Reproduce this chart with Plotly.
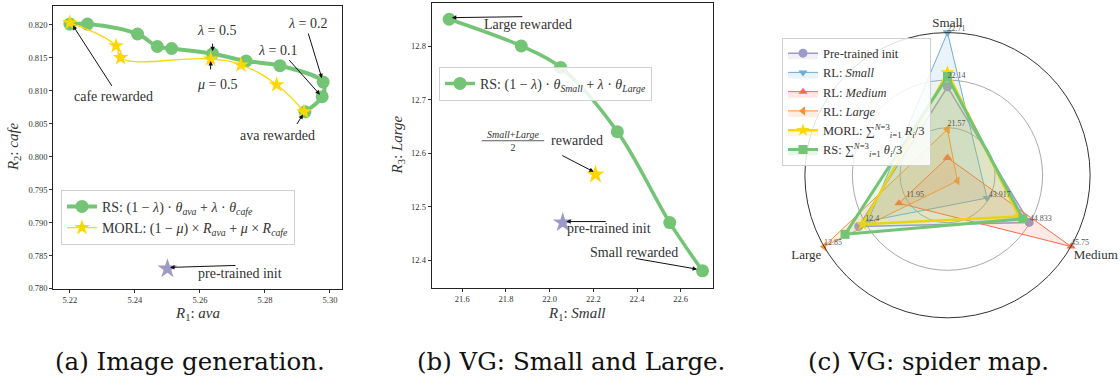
import plotly.graph_objects as go

W, H = 1120, 385
SERIF = "Liberation Serif, Times New Roman, Tinos, Times, DejaVu Serif, serif"
GREEN = "#74c476"
GOLD = "#ffd700"
PURPLE = "#9e9ac8"
BLUE = "#6baed6"
RED = "#fb6a4a"
ORANGE = "#fd8d3c"
TXT = "#333333"

# ---------------- (a) Image generation ----------------
rs_a_ava = [5.2923, 5.2976, 5.2979, 5.2846, 5.2742, 5.2639, 5.2513, 5.2469, 5.2408, 5.2254, 5.2200]
rs_a_cafe = [0.8068, 0.8091, 0.8113, 0.8138, 0.8145, 0.8156, 0.8164, 0.8167, 0.8186, 0.8201, 0.8201]
morl_a_ava = [5.2920, 5.2836, 5.2726, 5.2633, 5.2356, 5.2342, 5.2200]
morl_a_cafe = [0.8068, 0.8109, 0.8139, 0.8148, 0.8150, 0.8168, 0.8203]
init_a_ava = [5.2500]
init_a_cafe = [0.7830]
xa_ticks = [5.22, 5.24, 5.26, 5.28, 5.30]
ya_ticks = [0.780, 0.785, 0.790, 0.795, 0.800, 0.805, 0.810, 0.815, 0.820]

# ---------------- (b) VG: Small and Large ----------------
rs_b_small = [21.54, 21.87, 22.05, 22.31, 22.55, 22.70]
rs_b_large = [12.85, 12.80, 12.76, 12.64, 12.47, 12.38]
morl_b_small = [22.21]
morl_b_large = [12.56]
init_b_small = [22.06]
init_b_large = [12.47]
xb_ticks = [21.6, 21.8, 22.0, 22.2, 22.4, 22.6]
yb_ticks = [12.4, 12.5, 12.6, 12.7, 12.8]

# ---------------- (c) VG: spider map ----------------
spider_axes = ["Small", "Medium", "Large"]
spider_theta = [0, 120, 240]
axis_lo = [21.0, 43.0, 11.5]
axis_hi = [22.71, 45.75, 12.85]
axis_tick_labels = [["21.57", "22.14", "22.71"],
                    ["43.917", "44.833", "45.75"],
                    ["11.95", "12.4", "12.85"]]
init_c = [22.06, 44.82, 12.47]
rl_small_c = [22.71, 43.88, 12.37]
rl_medium_c = [21.21, 45.75, 12.03]
rl_large_c = [21.55, 43.22, 12.85]
morl_c = [22.23, 44.59, 12.43]
rs_c = [22.18, 44.68, 12.62]


def rgba(hexcol, a):
    h = hexcol.lstrip("#")
    return "rgba(%d,%d,%d,%.2f)" % (int(h[0:2], 16), int(h[2:4], 16), int(h[4:6], 16), a)


def norm(vals):
    return [(v - lo) / (hi - lo) for v, lo, hi in zip(vals, axis_lo, axis_hi)]


fig = go.Figure()

# (a)
fig.add_trace(go.Scatter(
    x=rs_a_ava, y=rs_a_cafe, mode="lines+markers", xaxis="x", yaxis="y", legend="legend",
    line=dict(color=GREEN, width=4, shape="spline"), marker=dict(size=13, color=GREEN),
    name="RS: (1 − <i>λ</i>) · <i>θ</i><sub><i>ava</i></sub> + <i>λ</i> · <i>θ</i><sub><i>cafe</i></sub>"))
fig.add_trace(go.Scatter(
    x=morl_a_ava, y=morl_a_cafe, mode="lines+markers", xaxis="x", yaxis="y", legend="legend",
    line=dict(color=GOLD, width=1.3, shape="spline", smoothing=1.3), marker=dict(symbol="star", size=12, color=GOLD),
    name="MORL: (1 − <i>μ</i>) × <i>R</i><sub><i>ava</i></sub> + <i>μ</i> × <i>R</i><sub><i>cafe</i></sub>"))
fig.add_trace(go.Scatter(
    x=init_a_ava, y=init_a_cafe, mode="markers", xaxis="x", yaxis="y", showlegend=False,
    marker=dict(symbol="star", size=15, color=PURPLE)))

# (b)
fig.add_trace(go.Scatter(
    x=rs_b_small, y=rs_b_large, mode="lines+markers", xaxis="x2", yaxis="y2", legend="legend2",
    line=dict(color=GREEN, width=3.5, shape="spline"), marker=dict(size=13, color=GREEN),
    name="RS: (1 − <i>λ</i>) · <i>θ</i><sub><i>Small</i></sub> + <i>λ</i> · <i>θ</i><sub><i>Large</i></sub>"))
fig.add_trace(go.Scatter(
    x=morl_b_small, y=morl_b_large, mode="markers", xaxis="x2", yaxis="y2", showlegend=False,
    marker=dict(symbol="star", size=14, color=GOLD)))
fig.add_trace(go.Scatter(
    x=init_b_small, y=init_b_large, mode="markers", xaxis="x2", yaxis="y2", showlegend=False,
    marker=dict(symbol="star", size=15, color=PURPLE)))

# (c)
spider_series = [
    ("Pre-trained init", init_c, PURPLE, "circle", 9, 1.5),
    ("RL: <i>Small</i>", rl_small_c, BLUE, "triangle-down", 8, 1.0),
    ("RL: <i>Medium</i>", rl_medium_c, RED, "triangle-up", 8, 1.0),
    ("RL: <i>Large</i>", rl_large_c, ORANGE, "triangle-left", 8, 1.0),
    ("MORL: ∑<sup><i>N</i>=3</sup><sub><i>i</i>=1</sub> <i>R</i><sub><i>i</i></sub>/3", morl_c, GOLD, "star", 10, 2.5),
    ("RS: ∑<sup><i>N</i>=3</sup><sub><i>i</i>=1</sub> <i>θ</i><sub><i>i</i></sub>/3", rs_c, GREEN, "square", 9, 3.0),
]
for name, vals, col, sym, msize, lw in spider_series:
    r = norm(vals)
    fig.add_trace(go.Scatterpolar(
        r=r + r[:1], theta=spider_theta + spider_theta[:1], subplot="polar", legend="legend3",
        mode="lines+markers", fill="toself", fillcolor=rgba(col, 0.15),
        line=dict(color=col, width=lw), marker=dict(symbol=sym, size=msize, color=col), name=name))

lab_r, lab_t, lab_txt = [], [], []
for th, labels in zip(spider_theta, axis_tick_labels):
    for k, lab in enumerate(labels):
        lab_r.append((k + 1) / 3)
        lab_t.append(th)
        lab_txt.append(lab)
fig.add_trace(go.Scatterpolar(
    r=lab_r, theta=lab_t, text=lab_txt, mode="text", subplot="polar", showlegend=False,
    textposition="top right", textfont=dict(family=SERIF, size=8, color="#555555")))

axis_common = dict(showgrid=False, zeroline=False, showline=True, mirror=True, linecolor="#222222",
                   linewidth=1.2, ticks="outside", ticklen=3, tickcolor="#333333",
                   tickfont=dict(family=SERIF, size=8.5, color=TXT))

legend_common = dict(xanchor="left", yanchor="top", bgcolor="rgba(255,255,255,0.85)",
                     bordercolor="#d0d0d0", borderwidth=1, itemwidth=30)

fig.update_layout(
    width=W, height=H, margin=dict(l=0, r=0, t=0, b=0),
    paper_bgcolor="white", plot_bgcolor="white",
    font=dict(family=SERIF, color=TXT),
    xaxis=dict(domain=[53.3 / W, 341.7 / W], range=[5.2149, 5.3036], tickvals=xa_ticks,
               tickformat=".2f", anchor="y", **axis_common),
    yaxis=dict(domain=[1 - 292.3 / H, 1 - 5.7 / H], range=[0.780, 0.8229], tickvals=ya_ticks,
               tickformat=".3f", anchor="x", **axis_common),
    xaxis2=dict(domain=[431.7 / W, 713 / W], range=[21.46, 22.748], tickvals=xb_ticks,
                tickformat=".1f", anchor="y2", **axis_common),
    yaxis2=dict(domain=[1 - 291.7 / H, 1 - 2.7 / H], range=[12.348, 12.881], tickvals=yb_ticks,
                tickformat=".1f", anchor="x2", **axis_common),
    polar=dict(
        domain=dict(x=[803 / W, 1092 / W], y=[1 - 322 / H, 1 - 33 / H]), bgcolor="white",
        radialaxis=dict(range=[0, 1], tickvals=[1 / 3, 2 / 3], showticklabels=False, ticks="",
                        showline=False, gridcolor="#aaaaaa", gridwidth=1),
        angularaxis=dict(rotation=90, direction="clockwise", tickvals=spider_theta, ticktext=spider_axes,
                         showgrid=False, ticks="", linecolor="#333333", linewidth=1,
                         tickfont=dict(family=SERIF, size=13, color=TXT))),
    legend=dict(x=61 / W, y=1 - 192.3 / H, font=dict(family=SERIF, size=14, color=TXT), **legend_common),
    legend2=dict(x=439 / W, y=1 - 67.7 / H, font=dict(family=SERIF, size=14, color=TXT), **legend_common),
    legend3=dict(x=782 / W, y=1 - 38 / H, font=dict(family=SERIF, size=12.5, color=TXT),
                 tracegroupgap=0, **legend_common),
)

ann = []


def text(x, y, s, xref, yref, size=14, angle=0, family=SERIF, color=TXT):
    ann.append(dict(x=x, y=y, xref=xref, yref=yref, text=s, showarrow=False, textangle=angle,
                    xanchor="center", yanchor="middle",
                    font=dict(family=family, size=size, color=color)))


def arrow(x, y, ax, ay, xref, yref):
    ann.append(dict(x=x, y=y, xref=xref, yref=yref, ax=ax, ay=ay, text="", showarrow=True,
                    arrowhead=2, arrowsize=0.9, arrowwidth=1, arrowcolor="#111111"))


# (a) annotations
text(5.2335, 0.8091, "cafe rewarded", "x", "y")
arrow(rs_a_ava[-1] + 0.0009, rs_a_cafe[-1] - 0.0002, 40, 62, "x", "y")
text(5.2652, 0.8191, "<i>λ</i> = 0.5", "x", "y")
arrow(rs_a_ava[5], rs_a_cafe[5] + 0.0004, 0, -9, "x", "y")
text(5.2652, 0.8110, "<i>μ</i> = 0.5", "x", "y")
arrow(morl_a_ava[3], morl_a_cafe[3] - 0.0003, 0, 10, "x", "y")
text(5.2840, 0.8161, "<i>λ</i> = 0.1", "x", "y")
arrow(rs_a_ava[1] - 0.0007, rs_a_cafe[1] + 0.0003, -32, -36, "x", "y")
text(5.2932, 0.8202, "<i>λ</i> = 0.2", "x", "y")
arrow(rs_a_ava[2] - 0.0004, rs_a_cafe[2] + 0.0006, -14, -46, "x", "y")
text(5.2837, 0.8032, "ava rewarded", "x", "y")
arrow(rs_a_ava[0] - 0.0006, rs_a_cafe[0] - 0.0004, -7, 11, "x", "y")
text(5.2723, 0.7822, "pre-trained init", "x", "y")
arrow(init_a_ava[0] + 0.0008, init_a_cafe[0] + 0.0002, 67, -2, "x", "y")

# (b) annotations
text(21.902, 12.840, "Large rewarded", "x2", "y2")
arrow(rs_b_small[0] + 0.012, rs_b_large[0] + 0.003, 72, -1, "x2", "y2")
text(21.833, 12.623, "<i>Small</i>+<i>Large</i><br>2", "x2", "y2", size=10)
text(22.124, 12.623, "rewarded", "x2", "y2")
arrow(morl_b_small[0] - 0.008, morl_b_large[0] + 0.005, -33, -17, "x2", "y2")
text(22.273, 12.4585, "pre-trained init", "x2", "y2")
arrow(init_b_small[0] + 0.016, init_b_large[0] + 0.002, 41, 0, "x2", "y2")
text(22.387, 12.414, "Small rewarded", "x2", "y2")
arrow(rs_b_small[-1] - 0.025, rs_b_large[-1] + 0.003, -63, -11, "x2", "y2")

# axis titles
text(14 / W, 1 - 149 / H, "<i>R</i><sub>2</sub>: <i>cafe</i>", "paper", "paper", size=15, angle=-90)
text(197 / W, 1 - 318 / H, "<i>R</i><sub>1</sub>: <i>ava</i>", "paper", "paper", size=15)
text(398.3 / W, 1 - 147 / H, "<i>R</i><sub>3</sub>: <i>Large</i>", "paper", "paper", size=15, angle=-90)
text(576.7 / W, 1 - 318 / H, "<i>R</i><sub>1</sub>: <i>Small</i>", "paper", "paper", size=15)

# captions
for cx, cap in [(189.7, "(a) Image generation."), (571.4, "(b) VG: Small and Large."),
                (928.6, "(c) VG: spider map.")]:
    text(cx / W, 1 - 366 / H, cap, "paper", "paper", size=24.5, family="DejaVu Serif", color="#111111")

fig.update_layout(annotations=ann)
fig.add_shape(type="line", xref="x2", yref="y2", x0=21.689, x1=21.975, y0=12.623, y1=12.623,
              line=dict(color=TXT, width=0.8))

fig.write_html("out.html")
